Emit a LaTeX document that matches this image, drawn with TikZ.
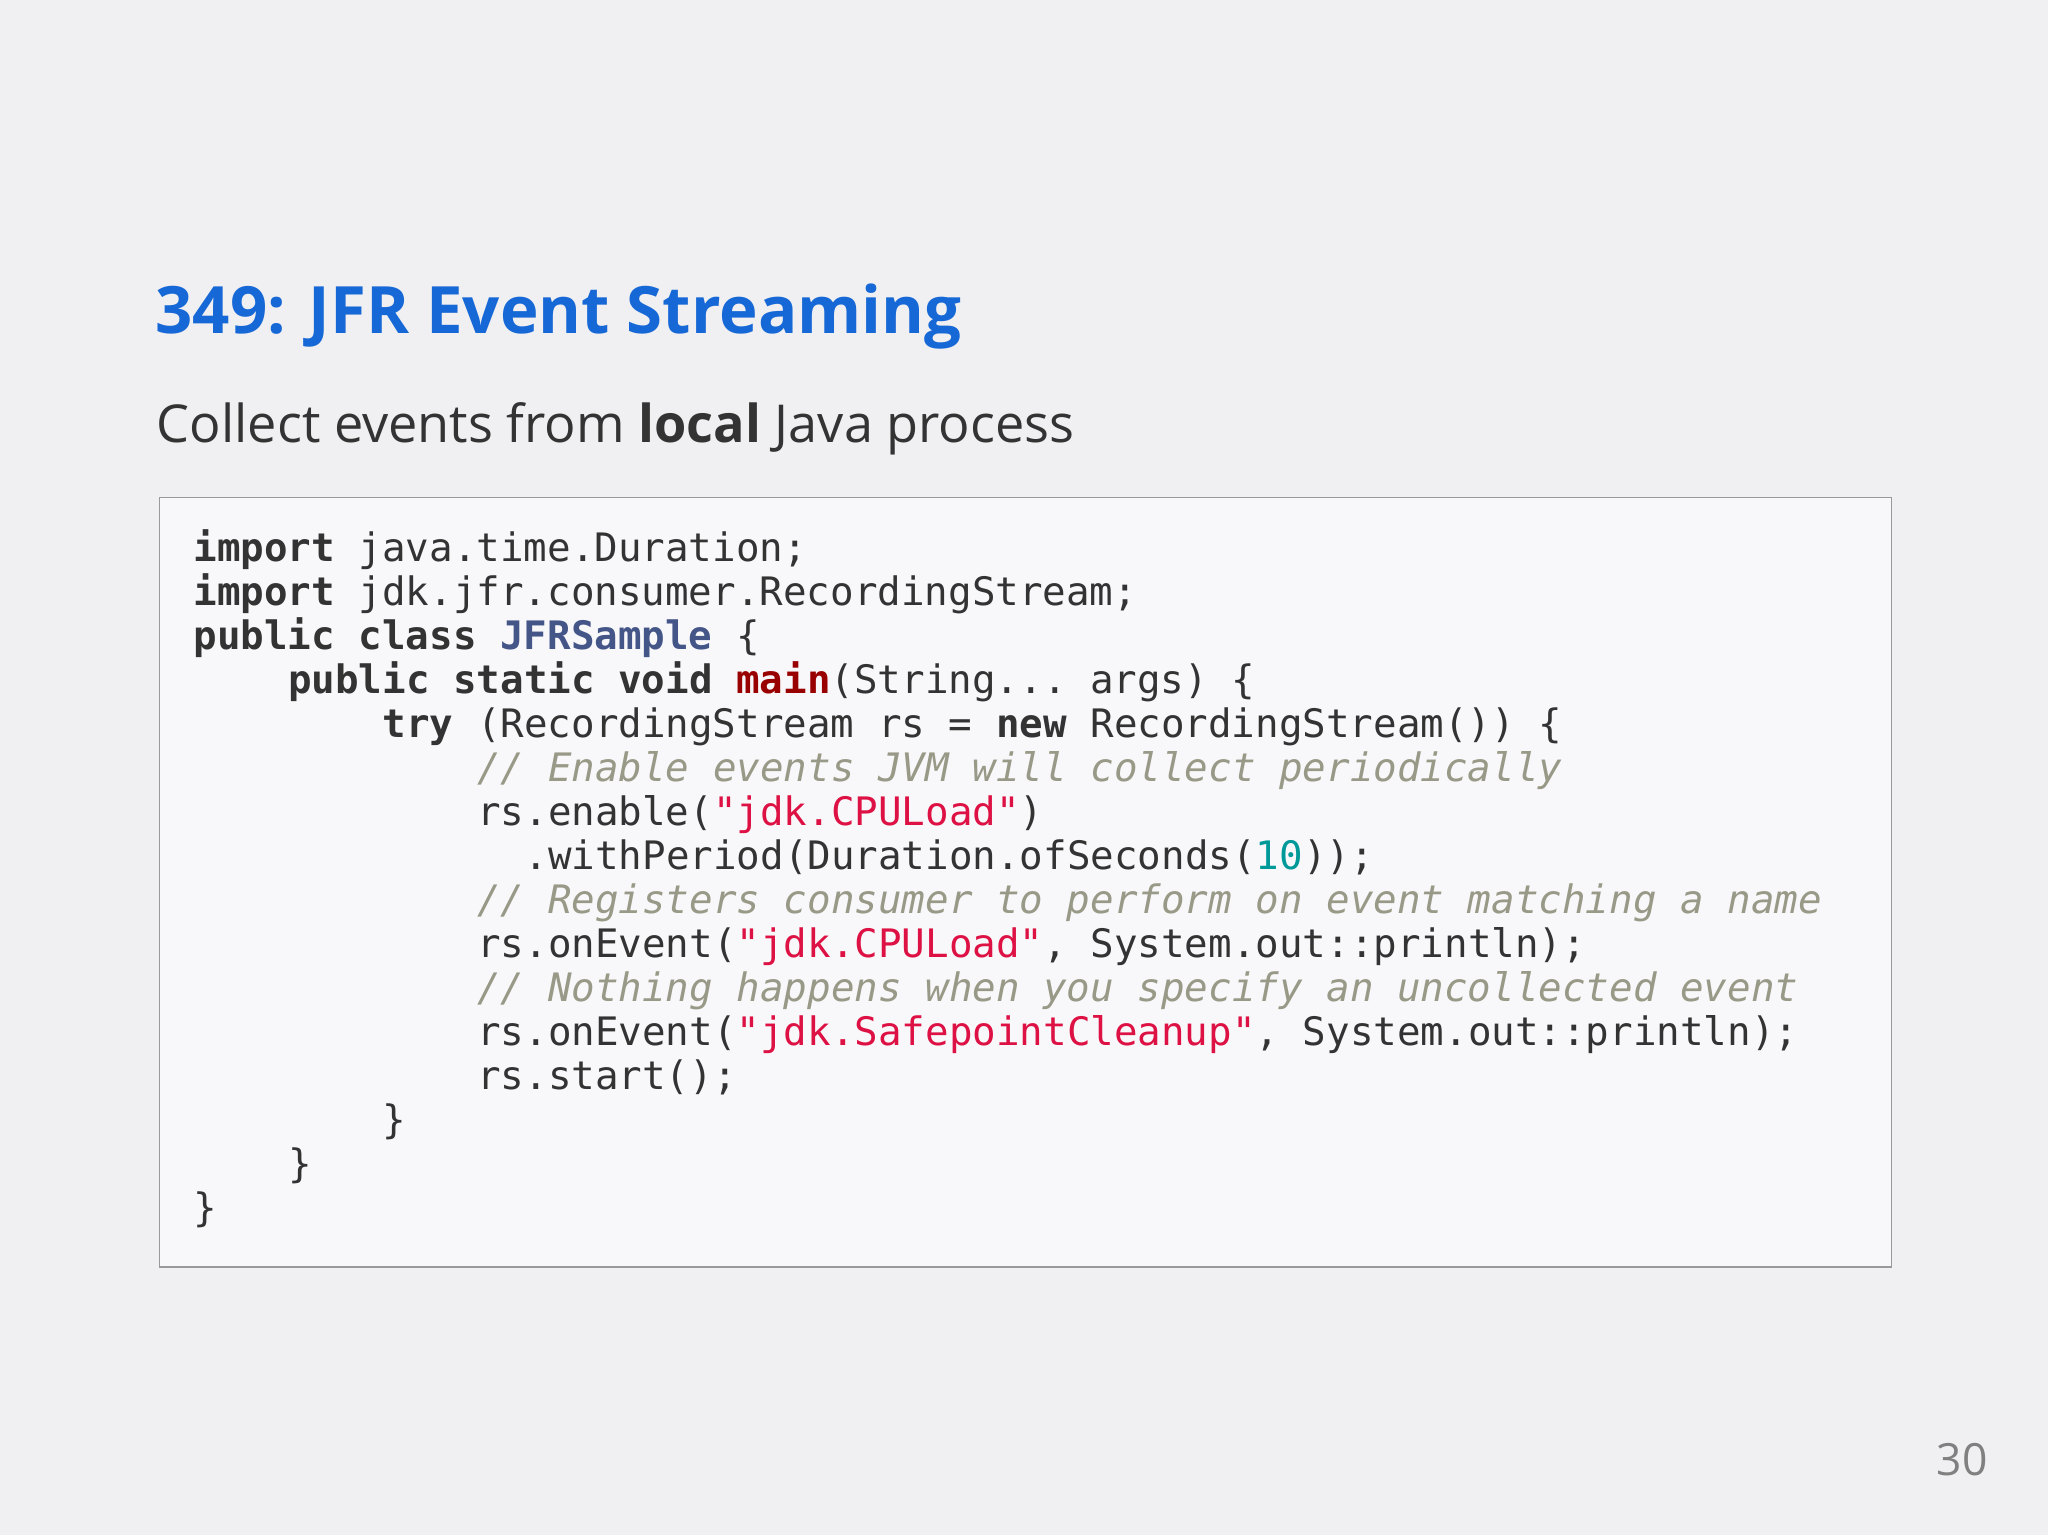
\documentclass[tikz,border=0pt]{standalone}
\usepackage{fontspec}
\setmainfont{Open Sans}
\setmonofont{DejaVu Sans Mono}
\definecolor{bg}{HTML}{F0EFF1}
\definecolor{ttl}{HTML}{1668D6}
\definecolor{boxbg}{HTML}{F8F8FA}
\definecolor{kw}{HTML}{333333}
\definecolor{cls}{HTML}{445588}
\definecolor{fn}{HTML}{990000}
\definecolor{str}{HTML}{DD1144}
\definecolor{num}{HTML}{009999}
\definecolor{cmt}{HTML}{999988}
\newcommand{\Kw}[1]{\textbf{#1}}
\newcommand{\Str}[1]{\textcolor{str}{#1}}
\newcommand{\Cm}[1]{\textcolor{cmt}{\itshape #1}}
\begin{document}
\begin{tikzpicture}[x=1pt,y=-1pt,
  code/.style={anchor=base west,inner sep=0pt,font=\fontsize{30}{30}\selectfont\ttfamily,text=kw}]
\fill[bg] (0,0) rectangle (1568,1178);
\fill[white] (0,1175) rectangle (1568,1178);
\node[anchor=base west,inner sep=0pt,text=ttl,font=\fontsize{50}{50}\selectfont\bfseries] (title) at (119,255) {349: JFR Event Streaming};
\node[anchor=base west,inner sep=0pt,text=kw,font=\fontsize{40}{40}\selectfont] (sub) at (120,339) {Collect events from \textbf{local} Java process};
\draw[fill=boxbg,draw=gray!80,line width=1.2pt] (122,381) rectangle (1448,970);
\def\cw{18.1}
\def\lh{33.7}
\node[code] (l0) at (148,430+0*\lh) {\Kw{import} java.time.Duration;};
\node[code] (l1) at (148,430+1*\lh) {\Kw{import} jdk.jfr.consumer.RecordingStream;};
\node[code] (l2) at (148,430+2*\lh) {\Kw{public class} \textcolor{cls}{\Kw{JFRSample}} \{};
\node[code] (l3) at (148+4*\cw,430+3*\lh) {\Kw{public static void} \textcolor{fn}{\Kw{main}}(String... args) \{};
\node[code] (l4) at (148+8*\cw,430+4*\lh) {\Kw{try} (RecordingStream rs = \Kw{new} RecordingStream()) \{};
\node[code] (l5) at (148+12*\cw,430+5*\lh) {\Cm{// Enable events JVM will collect periodically}};
\node[code] (l6) at (148+12*\cw,430+6*\lh) {rs.enable(\Str{"jdk.CPULoad"})};
\node[code] (l7) at (148+14*\cw,430+7*\lh) {.withPeriod(Duration.ofSeconds(\textcolor{num}{10}));};
\node[code] (l8) at (148+12*\cw,430+8*\lh) {\Cm{// Registers consumer to perform on event matching a name}};
\node[code] (l9) at (148+12*\cw,430+9*\lh) {rs.onEvent(\Str{"jdk.CPULoad"}, System.out::println);};
\node[code] (l10) at (148+12*\cw,430+10*\lh) {\Cm{// Nothing happens when you specify an uncollected event}};
\node[code] (l11) at (148+12*\cw,430+11*\lh) {rs.onEvent(\Str{"jdk.SafepointCleanup"}, System.out::println);};
\node[code] (l12) at (148+12*\cw,430+12*\lh) {rs.start();};
\node[code] (l13) at (148+8*\cw,430+13*\lh) {\}};
\node[code] (l14) at (148+4*\cw,430+14*\lh) {\}};
\node[code] (l15) at (148,430+15*\lh) {\}};
\node[anchor=base east,inner sep=0pt,text=gray,font=\fontsize{34}{34}\selectfont] (pg) at (1522,1130) {30};
\end{tikzpicture}
\end{document}
